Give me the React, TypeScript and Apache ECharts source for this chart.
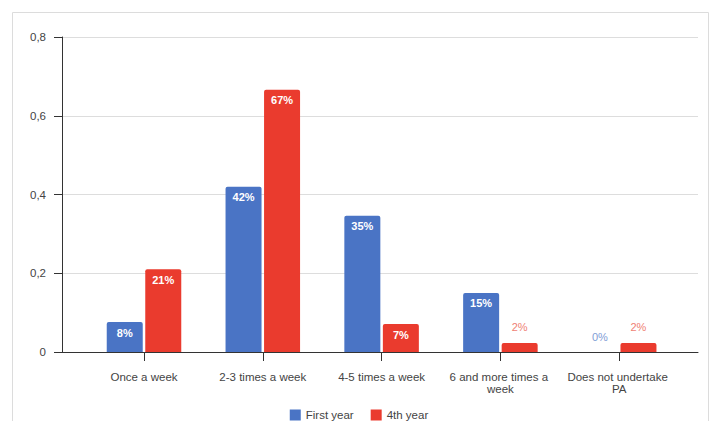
import React, { useEffect, useRef } from "react";
import * as echarts from "echarts";

const categories = [
  "Once a week",
  "2-3 times a week",
  "4-5 times a week",
  "6 and more times a week",
  "Does not undertake PA",
];
const firstYear = [0.076, 0.42, 0.346, 0.15, 0];
const fourthYear = [0.21, 0.666, 0.071, 0.023, 0.023];
const yTicks = [0, 0.2, 0.4, 0.6, 0.8];

const BLUE = "#4a74c5";
const RED = "#ea3b2e";
const BLUE_LIGHT = "#7f9dd6";
const RED_LIGHT = "#ef7f74";
const FONT = "'Liberation Sans', Arial, sans-serif";

const pct = (v: number) => Math.round(v * 100) + "%";

function buildData(values: number[], light: string) {
  return values.map((v) =>
    v < 0.05
      ? {
          value: v,
          label: {
            position: "top",
            distance: 10,
            color: light,
            fontWeight: "normal",
          },
        }
      : { value: v }
  );
}

export default function App() {
  const ref = useRef<HTMLDivElement>(null);
  useEffect(() => {
    if (!ref.current) return;
    const chart = echarts.init(ref.current, null, { renderer: "svg" });
    const baseLabel = {
      show: true,
      position: "insideTop",
      distance: 5,
      color: "#ffffff",
      fontWeight: "bold",
      fontSize: 11,
      fontFamily: FONT,
      formatter: (p: any) => pct(p.value),
    };
    chart.setOption({
      animation: false,
      backgroundColor: "#ffffff",
      textStyle: { fontFamily: FONT },
      graphic: [
        {
          type: "rect",
          shape: { x: 12.5, y: 12.5, width: 696, height: 420 },
          style: { fill: "none", stroke: "#dcdcdc", lineWidth: 1 },
          silent: true,
        },
      ],
      legend: {
        top: 404,
        left: "center",
        icon: "rect",
        itemWidth: 11,
        itemHeight: 11,
        itemGap: 17,
        textStyle: { color: "#444", fontSize: 11.5, fontFamily: FONT },
        data: ["First year", "4th year"],
      },
      grid: [
        { left: 62, right: 20, top: 37, bottom: 69 },
        { left: 84.6, right: 39.4, top: 37, bottom: 69 },
      ],
      xAxis: [
        {
          type: "value",
          gridIndex: 0,
          min: 0,
          max: 1,
          axisLine: { show: true, lineStyle: { color: "#333", width: 1 } },
          axisTick: { show: false },
          axisLabel: { show: false },
          splitLine: { show: false },
        },
        {
          type: "category",
          gridIndex: 1,
          data: categories,
          axisLine: { show: false },
          axisTick: {
            show: true,
            alignWithLabel: true,
            length: 9,
            lineStyle: { color: "#333" },
          },
          axisLabel: {
            color: "#444",
            fontSize: 11.5,
            fontFamily: FONT,
            margin: 19,
            lineHeight: 12,
            width: 114,
            overflow: "break",
            interval: 0,
          },
        },
      ],
      yAxis: [
        {
          type: "value",
          gridIndex: 0,
          min: 0,
          max: 0.8,
          interval: 0.2,
          axisLine: { show: true, lineStyle: { color: "#333", width: 1 } },
          axisTick: { show: true, length: 8, lineStyle: { color: "#333" } },
          axisLabel: {
            color: "#444",
            fontSize: 11.5,
            fontFamily: FONT,
            margin: 16,
            formatter: (v: number) => {
              const t = yTicks.find((x) => Math.abs(x - v) < 1e-9);
              return t === 0 ? "0" : String(+(t ?? v).toFixed(1)).replace(".", ",");
            },
          },
          splitLine: { show: true, lineStyle: { color: "#dddddd" } },
        },
        {
          type: "value",
          gridIndex: 1,
          min: 0,
          max: 0.8,
          interval: 0.2,
          show: false,
          splitLine: { show: false },
        },
      ],
      series: [
        {
          name: "First year",
          type: "bar",
          xAxisIndex: 1,
          yAxisIndex: 1,
          barWidth: 36,
          barGap: "7%",
          itemStyle: { color: BLUE, borderRadius: [2, 2, 0, 0] },
          label: baseLabel,
          data: buildData(firstYear, BLUE_LIGHT),
        },
        {
          name: "4th year",
          type: "bar",
          xAxisIndex: 1,
          yAxisIndex: 1,
          barWidth: 36,
          barGap: "7%",
          itemStyle: { color: RED, borderRadius: [2, 2, 0, 0] },
          label: baseLabel,
          data: buildData(fourthYear, RED_LIGHT),
        },
      ],
    });
    return () => chart.dispose();
  }, []);
  return (
    <div
      ref={ref}
      style={{ position: "fixed", left: 0, top: 0, width: 718, height: 421 }}
    />
  );
}
